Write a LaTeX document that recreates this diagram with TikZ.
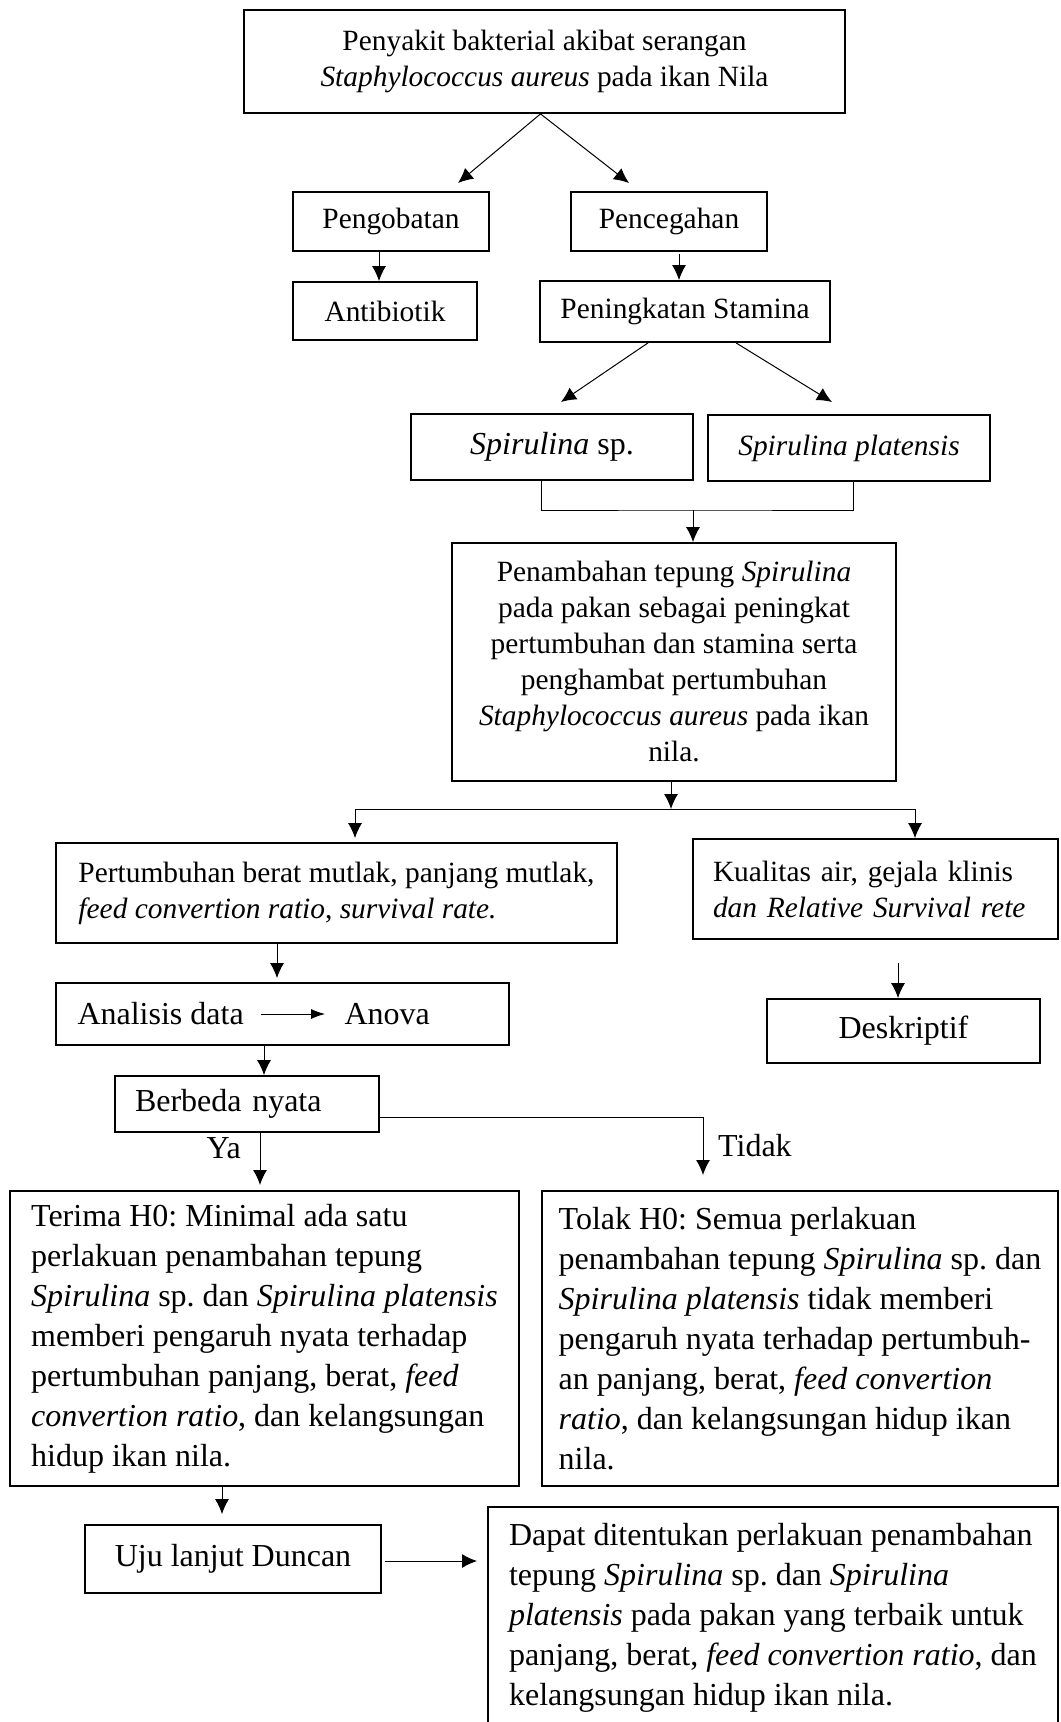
\documentclass[tikz,border=0pt]{standalone}
\usepackage{fontspec}
\setmainfont{Liberation Serif}
\usetikzlibrary{arrows.meta}
\frenchspacing
\newcommand{\fsa}{\fontsize{14.7}{18}\selectfont}
\newcommand{\fsb}{\fontsize{16}{20}\selectfont}

\begin{document}
\begin{tikzpicture}[x=0.5pt,y=-0.5pt,
    kotak/.style={draw,line width=0.9pt,inner sep=0pt,align=center},
    kotakrata/.style={draw,line width=0.9pt,inner sep=0pt,align=left},
    kotakkiri/.style={draw,line width=0.9pt,inner ysep=0pt,align=left},
    panah/.style={line width=0.5pt,-{Latex[length=7.5pt,width=7pt]}},
    panahkecil/.style={line width=0.5pt,-{Latex[length=7pt,width=5pt]}},
    garis/.style={line width=0.5pt}]
  \useasboundingbox (0,0) rectangle (1060,1722);

  \node[kotak,font=\fsa,minimum width=300.5pt,minimum height=51.5pt] (sakit) at (544.5,61.5)
    {Penyakit bakterial akibat serangan\\\textit{Staphylococcus aureus} pada ikan Nila};
  \node[kotak,font=\fsa,minimum width=98pt,minimum height=29.5pt] (obat) at (391,221.5) {Pengobatan};
  \node[kotak,font=\fsa,minimum width=98pt,minimum height=29.5pt] (cegah) at (669,221.5) {Pencegahan};
  \node[kotak,font=\fsa,minimum width=92pt,minimum height=29pt] (antibiotik) at (385,311) {Antibiotik};
  \node[kotak,font=\fsa,minimum width=145pt,minimum height=30.5pt] (stamina) at (685,311.5) {Peningkatan Stamina};
  \node[kotak,font=\fsb,minimum width=141pt,minimum height=33pt] (spsp) at (552,447) {\textit{Spirulina} sp.};
  \node[kotak,font=\fsa,minimum width=141pt,minimum height=33pt] (plat) at (849,448) {\textit{Spirulina platensis}};
  \node[kotak,font=\fsa,minimum width=222pt,minimum height=119pt] (tepung) at (674,662)
    {Penambahan tepung \textit{Spirulina}\\pada pakan sebagai peningkat\\pertumbuhan dan stamina serta\\penghambat pertumbuhan\\\textit{Staphylococcus aureus} pada ikan\\nila.};
  \node[kotakrata,font=\fsa,minimum width=280.5pt,minimum height=50pt] (tumbuh) at (336.5,893)
    {Pertumbuhan berat mutlak, panjang mutlak,\\\textit{feed convertion ratio}, \textit{survival rate.}};
  \node[kotakkiri,font=\fsa,inner xsep=10pt,text width=162.5pt,minimum height=50pt] (kualitas) at (875.5,889)
    {Kualitas air, gejala klinis\\\textit{dan Relative Survival rete}};
  \node[kotak,minimum width=226.5pt,minimum height=31pt] (analisis) at (282.5,1014) {};
  \node[anchor=west,inner sep=0pt,font=\fsb] (analisisdata) at ([xshift=11pt]analisis.west) {Analisis data};
  \node[anchor=west,inner sep=0pt,font=\fsb] (anova) at ([xshift=144.5pt]analisis.west) {Anova};
  \node[kotak,font=\fsb,minimum width=136.5pt,minimum height=32pt] (deskriptif) at (903.5,1031) {Deskriptif};
  \node[kotakkiri,font=\fsb,inner xsep=10pt,text width=112pt,minimum height=28pt] (beda) at (247,1104) {Berbeda nyata};
  \node[kotakrata,font=\fsb,minimum width=254.5pt,minimum height=147.5pt] (terima) at (264.5,1338.5)
    {Terima H0: Minimal ada satu\\perlakuan penambahan tepung\\\textit{Spirulina} sp. dan \textit{Spirulina platensis}\\memberi pengaruh nyata terhadap\\pertumbuhan panjang, berat, \textit{feed}\\\textit{convertion ratio}, dan kelangsungan\\hidup ikan nila.};
  \node[kotakrata,font=\fsb,minimum width=258pt,minimum height=147.5pt] (tolak) at (800,1338.5)
    {Tolak H0: Semua perlakuan\\penambahan tepung \textit{Spirulina} sp. dan\\\textit{Spirulina platensis} tidak memberi\\pengaruh nyata terhadap pertumbuh-\\an panjang, berat, \textit{feed convertion}\\\textit{ratio}, dan kelangsungan hidup ikan\\nila.};
  \node[kotak,font=\fsb,minimum width=148pt,minimum height=34pt] (uji) at (233,1559) {Uju lanjut Duncan};
  \node[kotakrata,font=\fsb,minimum width=285pt,minimum height=110.5pt] (dapat) at (773,1617.5)
    {Dapat ditentukan perlakuan penambahan\\tepung \textit{Spirulina} sp. dan \textit{Spirulina}\\\textit{platensis} pada pakan yang terbaik untuk\\panjang, berat, \textit{feed convertion ratio}, dan\\kelangsungan hidup ikan nila.};

  \coordinate (kiri1) at (458,183);
  \coordinate (kanan1) at (629,183);
  \coordinate (kiri2) at (561,402);
  \coordinate (kanan2) at (832,402);
  \coordinate (gabung) at (693,510);
  \coordinate (cabang) at (671,809);
  \coordinate (bawahkualitas) at (898,963);
  \coordinate (ya) at (260,1185);
  \coordinate (tidak) at (703,1175);
  \coordinate (kanan3) at (477,1561);

  \draw[panah] ([xshift=-2pt]sakit.south) -- (kiri1);
  \draw[panah] ([xshift=-2pt]sakit.south) -- (kanan1);
  \draw[panah] ([xshift=-6pt]obat.south) -- ([xshift=-3pt]antibiotik.north);
  \draw[panah] ([xshift=5pt,yshift=-1pt]cegah.south) -- ([xshift=-3pt]stamina.north);
  \draw[panah] ([xshift=-18.5pt]stamina.south) -- (kiri2);
  \draw[panah] ([xshift=25.5pt]stamina.south) -- (kanan2);
  \draw[garis] ([xshift=-5.5pt]spsp.south) |- (gabung) -| ([xshift=2pt]plat.south);
  \draw[panah] (gabung) -- (gabung |- tepung.north);
  \draw[panah] ([xshift=-1.5pt]tepung.south) -- (cabang);
  \draw[panah] (cabang) -| ([xshift=9.25pt,yshift=2pt]tumbuh.north);
  \draw[panah] (cabang) -| ([xshift=19.75pt]kualitas.north);
  \draw[panah] ([xshift=-29.75pt]tumbuh.south) -- ([xshift=-2.75pt,yshift=2pt]analisis.north);
  \draw[panahkecil,shorten <=8.5pt,shorten >=9.5pt] (analisisdata) -- (anova);
  \draw[panah] (bawahkualitas) -- (bawahkualitas |- deskriptif.north);
  \draw[panah] ([xshift=-9.25pt]analisis.south) -- ([xshift=8.5pt]beda.north);
  \draw[panah] ([xshift=6.5pt]beda.south) -- (ya) node[pos=0.3,left=6pt,font=\fsb] {Ya};
  \draw[panah] ([yshift=-6.5pt]beda.east) -| (tidak) node[pos=0.75,right=4pt,font=\fsb] {Tidak};
  \draw[panah] ([xshift=-21.25pt]terima.south) -- ([xshift=-5.5pt,yshift=5pt]uji.north);
  \draw[panah] ([xshift=1.5pt,yshift=-1pt]uji.east) -- (kanan3);
\end{tikzpicture}
\end{document}
